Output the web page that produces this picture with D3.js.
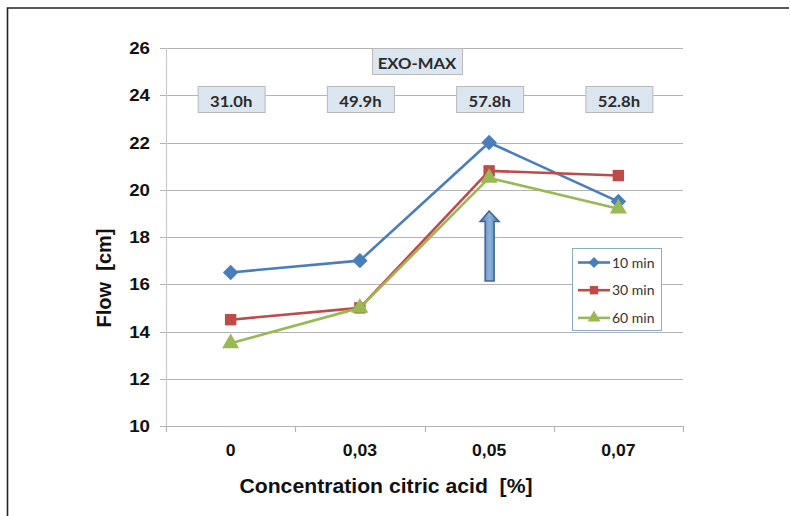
<!DOCTYPE html>
<html>
<head>
<meta charset="utf-8">
<script src="https://cdn.jsdelivr.net/npm/d3@7"></script>
<style>
  html, body { margin: 0; padding: 0; background: #fff; }
  svg { display: block; }
</style>
</head>
<body>
<div id="chart"></div>
<script>
// =======================
// Data
// =======================
const categories = ["0", "0,03", "0,05", "0,07"];
const seriesNames = ["10 min", "30 min", "60 min"];
const flow10 = [16.5, 17.0, 22.0, 19.5];
const flow30 = [14.5, 15.0, 20.8, 20.6];
const flow60 = [13.5, 15.0, 20.5, 19.2];
const yTicks = [10, 12, 14, 16, 18, 20, 22, 24, 26];
const timeLabels = ["31.0h", "49.9h", "57.8h", "52.8h"];
const peakLabel = "EXO-MAX";

// rotated square, like the spreadsheet diamond marker
const diamond = {
  draw(ctx, size) {
    const r = Math.sqrt(size / 2);
    ctx.moveTo(0, -r); ctx.lineTo(r, 0); ctx.lineTo(0, r); ctx.lineTo(-r, 0); ctx.closePath();
  }
};

const series = [
  { name: seriesNames[0], values: flow10, color: "#4a7ebb", symbol: diamond, size: 120, lsize: 60 },
  { name: seriesNames[1], values: flow30, color: "#be4b48", symbol: d3.symbolSquare, size: 130, lsize: 70 },
  { name: seriesNames[2], values: flow60, color: "#98b954", symbol: d3.symbolTriangle, size: 125, lsize: 70 }
];

// =======================
// SVG & scales
// =======================
const width = 790, height = 516;
const svg = d3.select("#chart").append("svg")
  .attr("width", width)
  .attr("height", height);

// outer frame (clipped at right/bottom like the source)
svg.append("path")
  .attr("d", "M7.5,540 L7.5,8 L789,8")
  .attr("fill", "none")
  .attr("stroke", "#222")
  .attr("stroke-width", 1.6);

const plot = { left: 166, right: 683, top: 48, bottom: 426 };

const x = d3.scaleBand()
  .domain(categories)
  .range([plot.left, plot.right]);

const y = d3.scaleLinear()
  .domain([10, 26])
  .range([plot.bottom, plot.top]);

const cx = c => x(c) + x.bandwidth() / 2;
const stretch = 1.1; // source text is a bit wide

// =======================
// Grid & axes
// =======================
svg.append("g")
  .selectAll("line")
  .data(yTicks)
  .join("line")
  .attr("x1", plot.left - 6)
  .attr("x2", plot.right)
  .attr("y1", d => Math.round(y(d)) + 0.5)
  .attr("y2", d => Math.round(y(d)) + 0.5)
  .attr("stroke", "#b4b4b4")
  .attr("stroke-width", 1.2);

svg.append("line")
  .attr("x1", plot.left + 0.5).attr("x2", plot.left + 0.5)
  .attr("y1", plot.top).attr("y2", plot.bottom)
  .attr("stroke", "#c8c8c8")
  .attr("stroke-width", 1.2);

// x tick marks at band boundaries
const bounds = categories.map(c => x(c)).concat([plot.right]);
svg.append("g")
  .selectAll("line")
  .data(bounds)
  .join("line")
  .attr("x1", d => Math.round(d) + 0.5)
  .attr("x2", d => Math.round(d) + 0.5)
  .attr("y1", plot.bottom)
  .attr("y2", plot.bottom + 6)
  .attr("stroke", "#b4b4b4")
  .attr("stroke-width", 1.2);

svg.append("g")
  .selectAll("text")
  .data(yTicks)
  .join("text")
  .attr("transform", d => `translate(150,${y(d) + 6}) scale(${stretch},1)`)
  .attr("text-anchor", "end")
  .attr("font-family", "Liberation Sans, Arial, sans-serif")
  .attr("font-weight", "bold")
  .attr("font-size", 17)
  .attr("fill", "#111")
  .text(d => d);

svg.append("g")
  .selectAll("text")
  .data(categories)
  .join("text")
  .attr("transform", d => `translate(${cx(d)},456) scale(${stretch},1)`)
  .attr("text-anchor", "middle")
  .attr("font-family", "Liberation Sans, Arial, sans-serif")
  .attr("font-weight", "bold")
  .attr("font-size", 16)
  .attr("fill", "#111")
  .text(d => d);

// axis titles
svg.append("text")
  .attr("transform", "translate(386,493) scale(1.06,1)")
  .attr("text-anchor", "middle")
  .attr("font-family", "Liberation Sans, Arial, sans-serif")
  .attr("font-weight", "bold")
  .attr("font-size", 20)
  .attr("fill", "#111")
  .attr("xml:space", "preserve")
  .text("Concentration citric acid  [%]");

svg.append("text")
  .attr("transform", "translate(111,278) rotate(-90)")
  .attr("text-anchor", "middle")
  .attr("font-family", "Liberation Sans, Arial, sans-serif")
  .attr("font-weight", "bold")
  .attr("font-size", 20)
  .attr("fill", "#111")
  .attr("xml:space", "preserve")
  .text("Flow  [cm]");

// =======================
// Annotation boxes
// =======================
function labelBox(cxPos, top, w, h, txt) {
  svg.append("rect")
    .attr("x", cxPos - w / 2 + 0.5)
    .attr("y", top + 0.5)
    .attr("width", w)
    .attr("height", h)
    .attr("fill", "#dce6f0")
    .attr("stroke", "#b9b9b9")
    .attr("stroke-width", 1);
  svg.append("text")
    .attr("transform", `translate(${cxPos},${top + 21}) scale(1.15,1)`)
    .attr("text-anchor", "middle")
    .attr("font-family", "Lato, sans-serif")
    .attr("font-weight", "bold")
    .attr("font-size", 14.5)
    .attr("fill", "#2b2b2b")
    .text(txt);
}

timeLabels.forEach((t, i) => labelBox(cx(categories[i]) + 0.5, 86, 67, 26, t));
labelBox(417, 48, 90, 26, peakLabel);

// =======================
// Lines & markers
// =======================
const line = d3.line()
  .x((d, i) => cx(categories[i]))
  .y(d => y(d));

series.forEach(s => {
  svg.append("path")
    .datum(s.values)
    .attr("d", line)
    .attr("fill", "none")
    .attr("stroke", s.color)
    .attr("stroke-width", 2.6)
    .attr("stroke-linejoin", "round");

  svg.append("g")
    .selectAll("path")
    .data(s.values)
    .join("path")
    .attr("transform", (d, i) => `translate(${cx(categories[i])},${y(d)})`)
    .attr("d", d3.symbol().type(s.symbol).size(s.size))
    .attr("fill", s.color);
});

// =======================
// Block arrow under EXO-MAX
// =======================
const ax = cx(categories[2]);
const defs = svg.append("defs");
const grad = defs.append("linearGradient").attr("id", "arrowGrad")
  .attr("x1", "0").attr("x2", "1").attr("y1", "0").attr("y2", "0");
grad.append("stop").attr("offset", "0").attr("stop-color", "#4b79ad");
grad.append("stop").attr("offset", "0.5").attr("stop-color", "#8fb3dc");
grad.append("stop").attr("offset", "1").attr("stop-color", "#4b79ad");

svg.append("path")
  .attr("d", `M${ax},211 L${ax + 10},221.5 L${ax + 5},221.5 L${ax + 5},281 L${ax - 4},281 L${ax - 4},221.5 L${ax - 9},221.5 Z`)
  .attr("fill", "url(#arrowGrad)")
  .attr("stroke", "#3c6593")
  .attr("stroke-width", 1.5)
  .attr("stroke-linejoin", "miter");

// =======================
// Legend
// =======================
const legend = svg.append("g");
legend.append("rect")
  .attr("x", 572.5).attr("y", 248.5)
  .attr("width", 89).attr("height", 82)
  .attr("fill", "#fff")
  .attr("stroke", "#8eaacb")
  .attr("stroke-width", 1);

series.forEach((s, i) => {
  const ly = 262.5 + i * 27.7;
  legend.append("line")
    .attr("x1", 578).attr("x2", 610)
    .attr("y1", ly).attr("y2", ly)
    .attr("stroke", s.color)
    .attr("stroke-width", 2.6);
  legend.append("path")
    .attr("transform", `translate(594,${ly})`)
    .attr("d", d3.symbol().type(s.symbol).size(s.lsize))
    .attr("fill", s.color);
  legend.append("text")
    .attr("x", 612)
    .attr("y", ly + 5)
    .attr("font-family", "Lato, sans-serif")
    .attr("font-size", 14)
    .attr("fill", "#333")
    .text(s.name);
});
</script>
</body>
</html>
